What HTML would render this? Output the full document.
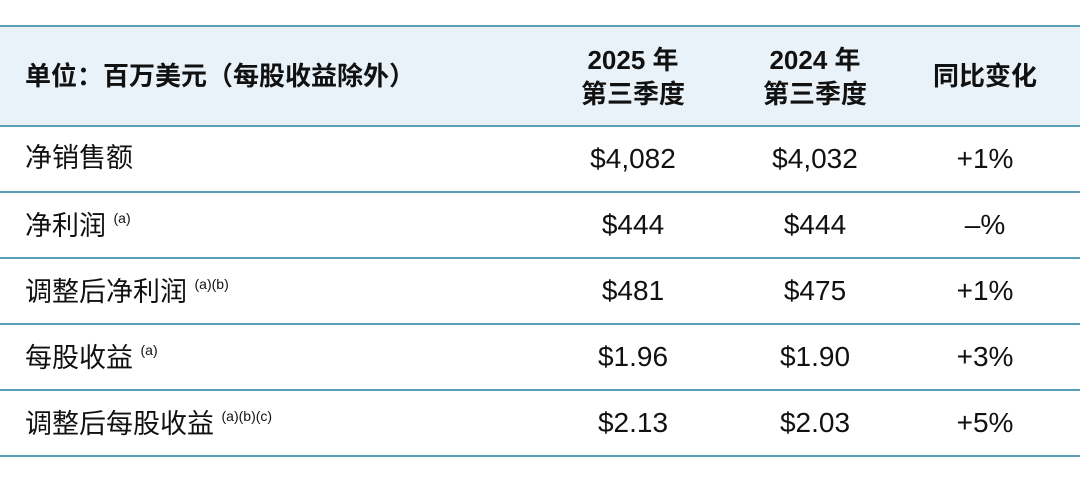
<!DOCTYPE html>
<html><head><meta charset="utf-8"><style>
body{margin:0;width:1080px;height:482px;background:#fff;position:relative;overflow:hidden;font-family:"Liberation Sans","Noto Sans CJK SC",sans-serif;color:#111}
.hd{position:absolute;left:0;top:26px;width:1080px;height:100px;background:#eaf2f9}
.ln{position:absolute;left:0;width:1080px;height:2px;background:#5a9fb5}
.t{position:absolute;white-space:nowrap;line-height:1}
.b{font-weight:bold;font-size:26px}
.v{font-size:28px}
.l{font-size:27px}
.c{transform:translateX(-50%);text-align:center}
sup{font-size:14px;vertical-align:12px}
</style></head><body>
<div class="hd"></div>
<div class="ln" style="top:25px"></div>
<div class="ln" style="top:125px"></div>
<div class="ln" style="top:191px"></div>
<div class="ln" style="top:257px"></div>
<div class="ln" style="top:323px"></div>
<div class="ln" style="top:389px"></div>
<div class="ln" style="top:455px"></div>
<div class="t b" style="left:25px;top:63px">单位：百万美元（每股收益除外）</div>
<div class="t b c" style="left:633px;top:43px;line-height:34px">2025 年<br>第三季度</div>
<div class="t b c" style="left:815px;top:43px;line-height:34px">2024 年<br>第三季度</div>
<div class="t b c" style="left:985px;top:63px">同比变化</div>

<div class="t l" style="left:25px;top:145px">净销售额</div>
<div class="t v c" style="left:633px;top:145px">$4,082</div>
<div class="t v c" style="left:815px;top:145px">$4,032</div>
<div class="t v c" style="left:985px;top:145px">+1%</div>

<div class="t l" style="left:25px;top:211px">净利润 <sup>(a)</sup></div>
<div class="t v c" style="left:633px;top:211px">$444</div>
<div class="t v c" style="left:815px;top:211px">$444</div>
<div class="t v c" style="left:985px;top:211px">–%</div>

<div class="t l" style="left:25px;top:277px">调整后净利润 <sup>(a)(b)</sup></div>
<div class="t v c" style="left:633px;top:277px">$481</div>
<div class="t v c" style="left:815px;top:277px">$475</div>
<div class="t v c" style="left:985px;top:277px">+1%</div>

<div class="t l" style="left:25px;top:343px">每股收益 <sup>(a)</sup></div>
<div class="t v c" style="left:633px;top:343px">$1.96</div>
<div class="t v c" style="left:815px;top:343px">$1.90</div>
<div class="t v c" style="left:985px;top:343px">+3%</div>

<div class="t l" style="left:25px;top:409px">调整后每股收益 <sup>(a)(b)(c)</sup></div>
<div class="t v c" style="left:633px;top:409px">$2.13</div>
<div class="t v c" style="left:815px;top:409px">$2.03</div>
<div class="t v c" style="left:985px;top:409px">+5%</div>
</body></html>
